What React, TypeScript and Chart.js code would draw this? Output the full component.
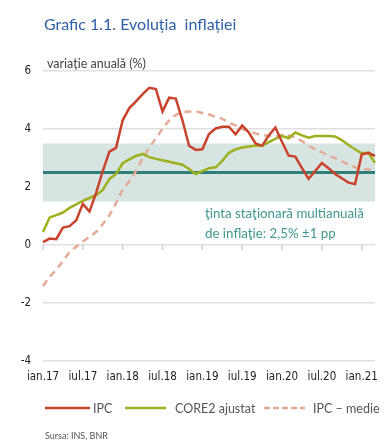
import React, { useEffect, useRef } from "react";
import { Chart, registerables } from "chart.js";

Chart.register(...registerables);

const monthNames = ["ian", "feb", "mar", "apr", "mai", "iun", "iul", "aug", "sep", "oct", "nov", "dec"];
const labels: string[] = [];
for (let y = 17; y <= 21; y++) {
  for (let m = 0; m < 12; m++) {
    if (y === 21 && m > 2) break;
    labels.push(`${monthNames[m]}.${y}`);
  }
}

const ipc = [0.1, 0.22, 0.2, 0.6, 0.65, 0.85, 1.42, 1.15, 1.8, 2.55, 3.22, 3.35,
  4.3, 4.72, 4.95, 5.2, 5.42, 5.38, 4.6, 5.08, 5.05, 4.3, 3.42, 3.28,
  3.3, 3.83, 4.02, 4.08, 4.08, 3.82, 4.12, 3.88, 3.5, 3.42, 3.78, 4.05,
  3.55, 3.08, 3.05, 2.65, 2.28, 2.55, 2.83, 2.65, 2.45, 2.3, 2.15, 2.1,
  3.12, 3.18, 3.07];
const core2 = [0.45, 0.95, 1.03, 1.12, 1.28, 1.4, 1.52, 1.62, 1.72, 1.9, 2.28, 2.45,
  2.82, 2.95, 3.07, 3.14, 3.03, 2.97, 2.92, 2.87, 2.82, 2.77, 2.62, 2.45,
  2.55, 2.65, 2.68, 2.9, 3.18, 3.3, 3.36, 3.4, 3.42, 3.42, 3.55, 3.66,
  3.76, 3.68, 3.88, 3.78, 3.7, 3.76, 3.76, 3.76, 3.74, 3.62, 3.45, 3.3,
  3.16, 3.18, 2.83];
const medie = [-1.42, -1.1, -0.85, -0.55, -0.25, -0.06, 0.12, 0.28, 0.45, 0.72, 1.03, 1.45,
  1.9, 2.2, 2.55, 2.98, 3.35, 3.68, 4.0, 4.3, 4.48, 4.57, 4.6, 4.6,
  4.55, 4.5, 4.42, 4.35, 4.22, 4.12, 4.0, 3.92, 3.85, 3.8, 3.76, 3.74,
  3.8, 3.78, 3.7, 3.58, 3.42, 3.3, 3.2, 3.08, 3.0, 2.88, 2.78, 2.68,
  2.62, 2.6, 2.6];

const yTicks = [-4, -2, 0, 2, 4, 6];
const target = 2.5;
const bandLow = 1.5;
const bandHigh = 3.5;

const titleText = "Grafic 1.1. Evoluția  inflației";
const yTitle = "variație anuală (%)";
const noteLines = ["ţinta staţionară multianuală", "de inflaţie: 2,5% ±1 pp"];
const sourceText = "Sursa: INS, BNR";
const seriesNames = ["IPC", "CORE2 ajustat", "IPC – medie"];

const RED = "#c9432c";
const GREEN = "#9fb01e";
const PINK = "#e6aa98";
const TEAL = "#2f7f7a";
const BAND = "#d6e5e2";
const NOTE = "#3f9690";
const GRID = "#e0e0e0";
const NARROW = "'Liberation Sans Narrow', 'DejaVu Sans Condensed', sans-serif";
const SANS = "Lato, 'Open Sans', sans-serif";

const decorPlugin = {
  id: "decor",
  beforeDatasetsDraw(chart: any) {
    const { ctx, chartArea } = chart;
    const y = chart.scales.y;
    const x = chart.scales.x;
    ctx.save();
    ctx.fillStyle = BAND;
    const yh = y.getPixelForValue(bandHigh);
    const yl = y.getPixelForValue(bandLow);
    ctx.fillRect(chartArea.left, yh, chartArea.right - chartArea.left, yl - yh);
    const yt = y.getPixelForValue(target);
    ctx.strokeStyle = TEAL;
    ctx.lineWidth = 3;
    ctx.beginPath();
    ctx.moveTo(chartArea.left, yt);
    ctx.lineTo(chartArea.right, yt);
    ctx.stroke();
    const y0 = y.getPixelForValue(0);
    ctx.strokeStyle = "#cfcfcf";
    ctx.lineWidth = 1.5;
    for (let i = 0; i < labels.length; i += 6) {
      const px = x.getPixelForValue(i);
      ctx.beginPath();
      ctx.moveTo(px, y0);
      ctx.lineTo(px, y0 + 5);
      ctx.stroke();
    }
    ctx.restore();
  },
  afterDraw(chart: any) {
    const { ctx } = chart;
    ctx.save();
    ctx.textBaseline = "alphabetic";
    ctx.textAlign = "left";
    ctx.fillStyle = "#2d5fa6";
    ctx.font = `16px ${SANS}`;
    ctx.fillText(titleText, 44, 30);
    ctx.fillStyle = "#444";
    ctx.font = `12.5px ${SANS}`;
    ctx.fillText(yTitle, 47, 68);
    ctx.fillStyle = NOTE;
    ctx.font = `13.3px ${SANS}`;
    ctx.fillText(noteLines[0], 205, 218);
    ctx.fillText(noteLines[1], 205, 238);
    const ly = 408;
    ctx.lineWidth = 2.5;
    ctx.strokeStyle = RED;
    ctx.beginPath(); ctx.moveTo(45, ly); ctx.lineTo(90, ly); ctx.stroke();
    ctx.strokeStyle = GREEN;
    ctx.beginPath(); ctx.moveTo(125, ly); ctx.lineTo(166, ly); ctx.stroke();
    ctx.strokeStyle = PINK;
    ctx.setLineDash([6, 3]);
    ctx.beginPath(); ctx.moveTo(264, ly); ctx.lineTo(305, ly); ctx.stroke();
    ctx.setLineDash([]);
    ctx.fillStyle = "#555";
    ctx.font = `12.5px ${SANS}`;
    ctx.textBaseline = "middle";
    ctx.fillText(seriesNames[0], 93, ly + 1);
    ctx.fillText(seriesNames[1], 175, ly + 1);
    ctx.fillText(seriesNames[2], 313, ly + 1);
    ctx.textBaseline = "alphabetic";
    ctx.fillStyle = "#555";
    ctx.font = `9px ${SANS}`;
    ctx.fillText(sourceText, 45, 439);
    ctx.restore();
  },
};

export default function App() {
  const ref = useRef<HTMLCanvasElement>(null);
  useEffect(() => {
    if (!ref.current) return;
    const chart = new Chart(ref.current, {
      type: "line",
      data: {
        labels,
        datasets: [
          { label: seriesNames[0], data: ipc, borderColor: RED, borderWidth: 2.5, pointRadius: 0, tension: 0, fill: false },
          { label: seriesNames[1], data: core2, borderColor: GREEN, borderWidth: 2.5, pointRadius: 0, tension: 0, fill: false },
          { label: seriesNames[2], data: medie, borderColor: PINK, borderWidth: 2.5, borderDash: [7, 5], pointRadius: 0, cubicInterpolationMode: "monotone", fill: false },
        ],
      },
      options: {
        animation: false,
        responsive: false,
        layout: { padding: { top: 71, right: 16, bottom: 0, left: 0 } },
        plugins: { legend: { display: false }, tooltip: { enabled: false } },
        scales: {
          x: {
            type: "category",
            offset: false,
            grid: { display: false, drawTicks: false },
            border: { display: false },
            ticks: {
              autoSkip: false,
              maxRotation: 0,
              minRotation: 0,
              padding: 9,
              color: "#222",
              font: { family: NARROW, size: 11.5 },
              callback: (_v: any, i: number) => (i % 6 === 0 ? labels[i] : ""),
            },
            afterFit: (s: any) => { s.height = 86; },
          },
          y: {
            min: -4,
            max: 6,
            afterBuildTicks: (s: any) => { s.ticks = yTicks.map((v) => ({ value: v })); },
            grid: { color: GRID, lineWidth: 1.5, drawTicks: false },
            border: { display: false },
            ticks: { padding: 12, color: "#222", font: { family: NARROW, size: 11.5 } },
            afterFit: (s: any) => { s.width = 43; },
          },
        },
      },
      plugins: [decorPlugin],
    });
    return () => chart.destroy();
  }, []);
  return (
    <div style={{ position: "fixed", left: 0, top: 0, width: 391, height: 447, background: "#fff" }}>
      <canvas ref={ref} width={391} height={447} style={{ width: 391, height: 447 }} />
    </div>
  );
}
